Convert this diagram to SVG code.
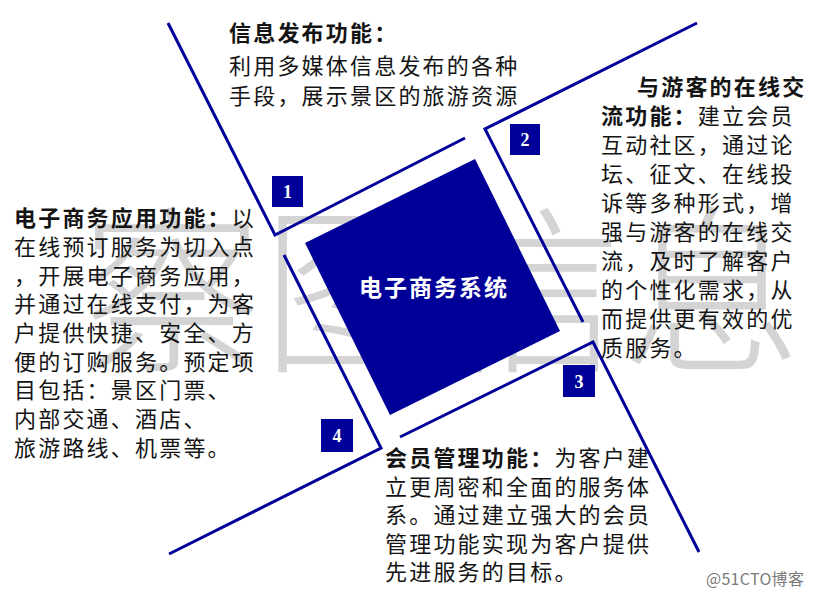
<svg xmlns="http://www.w3.org/2000/svg" width="815" height="595" viewBox="0 0 815 595">
  <style>
    .wm { font-family: "Noto Sans CJK SC", "Noto Sans", sans-serif; font-size: 180px; font-weight: 300; fill: #d4d4d4; }
    .txt { font-family: "Noto Sans CJK SC", "Noto Sans", sans-serif; font-size: 22px; fill: #141414; letter-spacing: 2.2px; }
    .b { font-weight: bold; }
    .line { fill: none; stroke: #000099; stroke-width: 3; stroke-linejoin: miter; }
    .box { fill: #000099; }
    .num { font-family: "Liberation Serif", "DejaVu Serif", serif; font-size: 18px; font-weight: bold; fill: #ffffff; text-anchor: middle; }
    .center { font-family: "Noto Sans CJK SC", "Noto Sans", sans-serif; font-size: 23px; font-weight: bold; fill: #ffffff; text-anchor: middle; letter-spacing: 2px; }
    .credit { font-family: "Noto Sans CJK SC", "Noto Sans", sans-serif; font-size: 16px; fill: #7a7a7a; letter-spacing: 0.3px; }
  </style>
  <rect width="815" height="595" fill="#ffffff"/>

  <g id="watermark">
    <text class="wm" x="82" y="358">察图信息</text>
  </g>

  <g id="connectors">
    <polyline class="line" points="168,23 275,235 465,138"/>
    <polyline class="line" points="697,23 485,129 583,322"/>
    <polyline class="line" points="400,437 593,342 699,552"/>
    <polyline class="line" points="284,255 381,448 169,554"/>
  </g>

  <g id="system">
    <polygon class="box" points="475,159 560,331 390,415 305,243"/>
    <text class="center" x="434" y="296">电子商务系统</text>
  </g>

  <g id="badge1">
    <rect class="box" x="272" y="176" width="31" height="31"/>
    <text class="num" x="287.5" y="198">1</text>
  </g>
  <g id="badge2">
    <rect class="box" x="510" y="124" width="30" height="31"/>
    <text class="num" x="525" y="146">2</text>
  </g>
  <g id="badge3">
    <rect class="box" x="563" y="365" width="32" height="32"/>
    <text class="num" x="579" y="387.5">3</text>
  </g>
  <g id="badge4">
    <rect class="box" x="321" y="419" width="32" height="33"/>
    <text class="num" x="337" y="442">4</text>
  </g>

  <g id="info-publish">
    <text class="txt b" x="229" y="41">信息发布功能：</text>
    <text class="txt" x="229" y="74">利用多媒体信息发布的各种</text>
    <text class="txt" x="229" y="104">手段，展示景区的旅游资源</text>
  </g>

  <g id="online-interaction">
    <text class="txt b" x="637" y="95">与游客的在线交</text>
    <text class="txt" x="601" y="124"><tspan class="b">流功能：</tspan>建立会员</text>
    <text class="txt" x="601" y="153">互动社区，通过论</text>
    <text class="txt" x="601" y="182">坛、征文、在线投</text>
    <text class="txt" x="601" y="211">诉等多种形式，增</text>
    <text class="txt" x="601" y="240">强与游客的在线交</text>
    <text class="txt" x="601" y="269">流，及时了解客户</text>
    <text class="txt" x="601" y="298">的个性化需求，从</text>
    <text class="txt" x="601" y="327">而提供更有效的优</text>
    <text class="txt" x="601" y="356">质服务。</text>
  </g>

  <g id="ecommerce-app">
    <text class="txt" x="14" y="226"><tspan class="b">电子商务应用功能：</tspan>以</text>
    <text class="txt" x="14" y="255">在线预订服务为切入点</text>
    <text class="txt" x="14" y="284">，开展电子商务应用，</text>
    <text class="txt" x="14" y="312">并通过在线支付，为客</text>
    <text class="txt" x="14" y="341">户提供快捷、安全、方</text>
    <text class="txt" x="14" y="370">便的订购服务。预定项</text>
    <text class="txt" x="14" y="398">目包括：景区门票、</text>
    <text class="txt" x="14" y="427">内部交通、酒店、</text>
    <text class="txt" x="14" y="456">旅游路线、机票等。</text>
  </g>

  <g id="member-management">
    <text class="txt" x="385" y="466"><tspan class="b">会员管理功能：</tspan>为客户建</text>
    <text class="txt" x="385" y="495">立更周密和全面的服务体</text>
    <text class="txt" x="385" y="523">系。通过建立强大的会员</text>
    <text class="txt" x="385" y="552">管理功能实现为客户提供</text>
    <text class="txt" x="385" y="580">先进服务的目标。</text>
  </g>

  <g id="credit">
    <text class="credit" x="706" y="585">@51CTO博客</text>
  </g>
</svg>
